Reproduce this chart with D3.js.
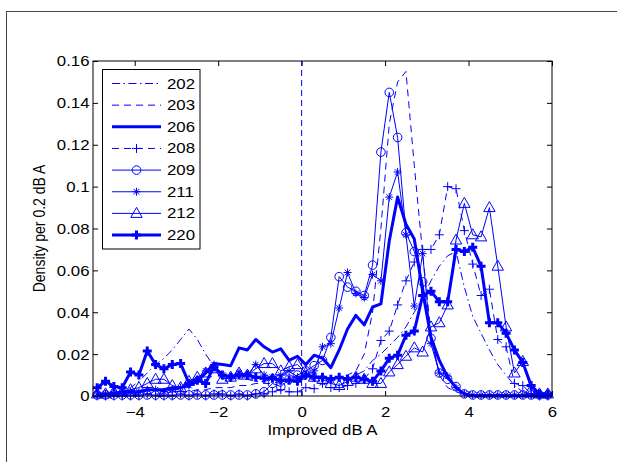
<!DOCTYPE html>
<html><head><meta charset="utf-8">
<script src="https://cdn.jsdelivr.net/npm/d3@7"></script>
<style>body{margin:0;background:#fff}</style></head>
<body>
<svg id="c" width="617" height="462"></svg>
<script>
const bins=[-4.9,-4.7,-4.5,-4.3,-4.1,-3.9,-3.7,-3.5,-3.3,-3.1,-2.9,-2.7,-2.5,-2.3,-2.1,-1.9,-1.7,-1.5,-1.3,-1.1,-0.9,-0.7,-0.5,-0.3,-0.1,0.1,0.3,0.5,0.7,0.9,1.1,1.3,1.5,1.7,1.9,2.1,2.3,2.5,2.7,2.9,3.1,3.3,3.5,3.7,3.9,4.1,4.3,4.5,4.7,4.9,5.1,5.3,5.5,5.7,5.9];

const s202=[0,0,0.001,0.002,0.004,0.007,0.011,0.015,0.018,0.022,0.027,0.032,0.027,0.020,0.014,0.011,0.009,0.008,0.008,0.007,0.007,0.008,0.007,0.008,0.009,0.008,0.009,0.008,0.009,0.008,0.009,0.010,0.012,0.017,0.020,0.024,0.028,0.033,0.040,0.047,0.055,0.062,0.067,0.069,0.052,0.038,0.030,0.022,0.015,0.010,0.005,0.002,0.001,0,0];
const s203=[0,0,0,0.001,0,0.001,0.001,0.001,0.001,0.002,0.002,0.002,0.003,0.003,0.004,0.004,0.004,0.005,0.005,0.006,0.006,0.006,0.007,0.007,0.008,0.008,0.008,0.009,0.008,0.009,0.010,0.012,0.020,0.040,0.080,0.130,0.150,0.155,0.110,0.068,0.030,0.010,0.004,0.002,0.001,0,0,0,0,0,0,0,0,0,0];
const s206=[0.001,0.001,0.001,0.002,0.002,0.002,0.003,0.003,0.003,0.004,0.004,0.005,0.007,0.011,0.0155,0.015,0.0145,0.023,0.022,0.027,0.0235,0.021,0.0225,0.017,0.019,0.015,0.0195,0.018,0.0135,0.022,0.032,0.0385,0.034,0.0425,0.044,0.074,0.095,0.082,0.075,0.050,0.028,0.017,0.009,0.004,0.001,0,0,0,0,0,0,0,0,0,0];
const s208=[0,0,0,0,0,0,0.001,0,0,0,0.001,0,0.001,0,0.001,0.001,0,0.001,0,0.001,0.001,0.002,0.003,0.002,0.002,0.004,0.0035,0.006,0.004,0.004,0.005,0.006,0.008,0.013,0.0265,0.031,0.0435,0.055,0.064,0.070,0.070,0.077,0.100,0.099,0.079,0.063,0.048,0.051,0.027,0.0235,0.006,0.005,0.001,0,0];
const s209=[0.0005,0.0005,0.0005,0.0005,0.0005,0.0005,0.0005,0.0005,0.0005,0.0005,0.0005,0.0005,0.0005,0.0005,0.0005,0.0005,0.0005,0.0005,0.0005,0.001,0.002,0.006,0.0045,0.008,0.010,0.012,0.0145,0.017,0.028,0.057,0.052,0.050,0.048,0.0625,0.1165,0.145,0.1235,0.078,0.069,0.0545,0.0275,0.011,0.008,0.0045,0.001,0.0005,0.0005,0.0005,0.0005,0.0005,0.0005,0.0005,0.0005,0.0005,0.0005];
const s211=[0.001,0.001,0.001,0.001,0.002,0.002,0.003,0.003,0.002,0.003,0.004,0.005,0.008,0.012,0.015,0.010,0.009,0.011,0.010,0.015,0.010,0.009,0.010,0.012,0.009,0.010,0.012,0.0235,0.025,0.042,0.059,0.049,0.047,0.058,0.055,0.095,0.107,0.077,0.043,0.068,0.025,0.011,0.0095,0.004,0.001,0.0005,0.0005,0.0005,0.0005,0.0005,0.0005,0.0005,0.0005,0.0005,0.0005];
const s212=[0.001,0.001,0.002,0.002,0.003,0.004,0.006,0.008,0.008,0.005,0.004,0.007,0.009,0.011,0.013,0.008,0.009,0.011,0.010,0.013,0.0155,0.0155,0.012,0.014,0.015,0.011,0.009,0.008,0.006,0.005,0.007,0.009,0.008,0.006,0.006,0.0115,0.015,0.019,0.023,0.021,0.033,0.035,0.0435,0.0745,0.092,0.077,0.076,0.090,0.062,0.033,0.011,0.0165,0.003,0.001,0.001];
const s220=[0.004,0.007,0.0045,0.004,0.0115,0.010,0.0215,0.015,0.013,0.015,0.0155,0.006,0.0075,0.006,0.014,0.010,0.009,0.010,0.010,0.009,0.0085,0.0085,0.0075,0.0075,0.007,0.010,0.009,0.009,0.008,0.009,0.008,0.009,0.008,0.007,0.012,0.018,0.0195,0.029,0.031,0.048,0.050,0.045,0.045,0.070,0.069,0.071,0.062,0.035,0.035,0.030,0.022,0.016,0.005,0.001,0.001];

const seriesNames=["202","203","206","208","209","211","212","220"];
const seriesValues=[s202,s203,s206,s208,s209,s211,s212,s220];
const xTicks=[-4,-2,0,2,4,6];
const yTicks=[0,0.02,0.04,0.06,0.08,0.1,0.12,0.14,0.16];

const styles={
 "202":{w:1,dash:"8,3.5,1.5,3.5",marker:null},
 "203":{w:1,dash:"7,5",marker:null},
 "206":{w:3,dash:null,marker:null},
 "208":{w:1,dash:"7,5",marker:"plus"},
 "209":{w:1,dash:null,marker:"circle"},
 "211":{w:1,dash:null,marker:"star"},
 "212":{w:1,dash:null,marker:"tri"},
 "220":{w:3,dash:null,marker:"plusb"}
};
const BLUE="#0000ff";
const FONT="'Liberation Sans', Arial, Helvetica, sans-serif";
const SX=1.2;

const svg=d3.select("#c");
const L=93,R=552,T=61,B=396;
const x=d3.scaleLinear().domain([-5,6]).range([L,R]);
const y=d3.scaleLinear().domain([0,0.16]).range([B,T]);

// page frame
svg.append("line").attr("x1",6).attr("x2",617).attr("y1",11.5).attr("y2",11.5).attr("stroke","#444").attr("stroke-width",1);
svg.append("line").attr("x1",6.5).attr("x2",6.5).attr("y1",11).attr("y2",462).attr("stroke","#444").attr("stroke-width",1);

// axes
const fy=d=>d===0?"0":String(+d.toFixed(2));
const gB=svg.append("g").attr("transform",`translate(0,${B})`).call(d3.axisBottom(x).tickValues(xTicks).tickSize(-5).tickPadding(11).tickFormat(d3.format("d")));
const gL=svg.append("g").attr("transform",`translate(${L},0)`).call(d3.axisLeft(y).tickValues(yTicks).tickSize(-5).tickFormat(fy));
const gT=svg.append("g").attr("transform",`translate(0,${T})`).call(d3.axisTop(x).tickValues(xTicks).tickSize(-5).tickFormat(""));
const gR=svg.append("g").attr("transform",`translate(${R},0)`).call(d3.axisRight(y).tickValues(yTicks).tickSize(-5).tickFormat(""));
[gB,gL,gT,gR].forEach(g=>{g.select(".domain").remove();g.selectAll("line").attr("stroke","#000");g.selectAll("text").attr("font-family",FONT).attr("font-size",14).attr("fill","#000");});
gB.selectAll("text").attr("transform",`scale(${SX},1)`);
gL.selectAll("text").attr("x",-3.5/SX).attr("dy","0.35em").attr("transform",`scale(${SX},1)`);

// zero reference line
svg.append("line").attr("x1",x(0)).attr("x2",x(0)).attr("y1",y(0)).attr("y2",y(0.16))
  .attr("stroke",BLUE).attr("stroke-width",1).attr("stroke-dasharray","6,4");

function markerPath(t){
  if(t==="plus") return "M-4.5,0H4.5M0,-4.5V4.5";
  if(t==="plusb") return "M-4.5,0H4.5M0,-4.5V4.5";
  if(t==="star") return "M-4,0H4M0,-4V4M-2.8,-2.8L2.8,2.8M-2.8,2.8L2.8,-2.8";
  if(t==="tri") return "M0,-6L5.7,4L-5.7,4Z";
  if(t==="circle") return d3.symbol().type(d3.symbolCircle).size(Math.PI*4.3*4.3)();
  return "";
}

const line=d3.line().x(d=>x(d[0])).y(d=>y(d[1]));
seriesNames.forEach((name,i)=>{
  const st=styles[name];
  const data=bins.map((b,j)=>[b,seriesValues[i][j]]);
  const g=svg.append("g");
  g.append("path").datum(data).attr("d",line).attr("fill","none").attr("stroke",BLUE)
    .attr("stroke-width",st.w).attr("stroke-dasharray",st.dash).attr("stroke-linejoin","round");
  if(st.marker){
    g.selectAll("path.m").data(data).join("path").attr("class","m")
      .attr("transform",d=>`translate(${x(d[0])},${y(d[1])})`)
      .attr("d",markerPath(st.marker)).attr("fill","none").attr("stroke",BLUE)
      .attr("stroke-width",st.marker==="plusb"?3:1);
  }
});

// plot box
svg.append("rect").attr("x",L).attr("y",T).attr("width",R-L).attr("height",B-T)
  .attr("fill","none").attr("stroke","#000").attr("stroke-width",1);

// legend
const lg=svg.append("g");
lg.append("rect").attr("x",102.5).attr("y",69.5).attr("width",97.5).attr("height",179.5)
  .attr("fill","#fff").attr("stroke","#000").attr("stroke-width",1);
seriesNames.forEach((name,i)=>{
  const st=styles[name];
  const yy=83.5+i*21.65;
  lg.append("line").attr("x1",112).attr("x2",161).attr("y1",yy).attr("y2",yy)
    .attr("stroke",BLUE).attr("stroke-width",st.w).attr("stroke-dasharray",st.dash);
  if(st.marker){
    lg.append("path").attr("transform",`translate(136.5,${yy})`).attr("d",markerPath(st.marker))
      .attr("fill","none").attr("stroke",BLUE).attr("stroke-width",st.marker==="plusb"?3:1);
  }
  lg.append("text").attr("transform",`translate(167,${yy+5}) scale(${SX},1)`)
    .attr("font-family",FONT).attr("font-size",14).attr("fill","#000").text(name);
});

// axis labels
svg.append("text").attr("transform",`translate(${(L+R)/2},435) scale(${SX},1)`)
  .attr("text-anchor","middle").attr("font-family",FONT).attr("font-size",14).text("Improved dB A");
svg.append("text").attr("transform",`translate(45,${(T+B)/2}) scale(${SX},1) rotate(-90)`)
  .attr("text-anchor","middle").attr("font-family",FONT).attr("font-size",14).text("Density per 0.2 dB A");
</script>
</body></html>
